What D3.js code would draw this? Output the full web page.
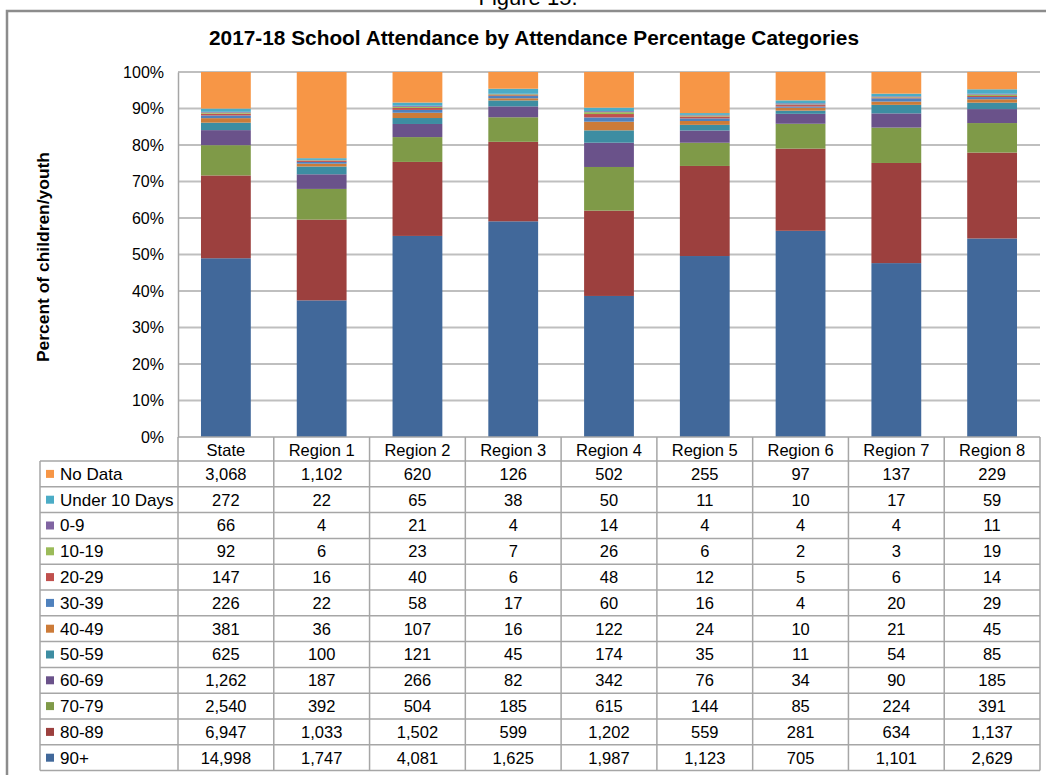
<!DOCTYPE html>
<html>
<head>
<meta charset="utf-8">
<script src="https://cdn.jsdelivr.net/npm/d3@7"></script>
<style>
  body { margin: 0; background: #fff; }
  svg { display: block; font-family: "Liberation Sans", Arial, sans-serif; }
</style>
</head>
<body>
<svg width="1046" height="775"></svg>
<script>
// columns of the chart / table
var regions = ['State', 'Region 1', 'Region 2', 'Region 3', 'Region 4', 'Region 5', 'Region 6', 'Region 7', 'Region 8'];

// series, bottom of the stack first
var categories = ['90+', '80-89', '70-79', '60-69', '50-59', '40-49', '30-39', '20-29', '10-19', '0-9', 'Under 10 Days', 'No Data'];
var colors = ['#41689a', '#9c403e', '#7f9a48', '#6a528a', '#3d8da2', '#cc7b38', '#4f81bd', '#c0504d', '#9bbb59', '#8064a2', '#4bacc6', '#f79646'];

var att90 = [14998, 1747, 4081, 1625, 1987, 1123, 705, 1101, 2629];
var att80 = [6947, 1033, 1502, 599, 1202, 559, 281, 634, 1137];
var att70 = [2540, 392, 504, 185, 615, 144, 85, 224, 391];
var att60 = [1262, 187, 266, 82, 342, 76, 34, 90, 185];
var att50 = [625, 100, 121, 45, 174, 35, 11, 54, 85];
var att40 = [381, 36, 107, 16, 122, 24, 10, 21, 45];
var att30 = [226, 22, 58, 17, 60, 16, 4, 20, 29];
var att20 = [147, 16, 40, 6, 48, 12, 5, 6, 14];
var att10 = [92, 6, 23, 7, 26, 6, 2, 3, 19];
var att0 = [66, 4, 21, 4, 14, 4, 4, 4, 11];
var under10 = [272, 22, 65, 38, 50, 11, 10, 17, 59];
var noData = [3068, 1102, 620, 126, 502, 255, 97, 137, 229];

var seriesValues = [att90, att80, att70, att60, att50, att40, att30, att20, att10, att0, under10, noData];

var yTicks = [0, 0.1, 0.2, 0.3, 0.4, 0.5, 0.6, 0.7, 0.8, 0.9, 1];

// rows for the stack
var rows = regions.map(function (r, i) {
  var row = { region: r };
  categories.forEach(function (c, j) { row[c] = seriesValues[j][i]; });
  return row;
});

var stack = d3.stack().keys(categories).offset(d3.stackOffsetExpand);
var layers = stack(rows);

var svg = d3.select('svg');

var plotLeft = 178, plotRight = 1040, plotTop = 72, plotBottom = 437;
var tableLeft = 40, tableTop = 461, rowH = 25.8;

var x = d3.scaleBand().domain(regions).range([plotLeft, plotRight]).paddingInner(0.48).paddingOuter(0.24);
var col = d3.scaleBand().domain(regions).range([plotLeft, plotRight]).padding(0);
var y = d3.scaleLinear().domain([0, 1]).range([plotBottom, plotTop]);
var color = d3.scaleOrdinal().domain(categories).range(colors);

// figure caption, cut off at the top like in the source
svg.append('text')
  .attr('x', 528).attr('y', 5)
  .attr('text-anchor', 'middle')
  .style('font-size', '22px')
  .text('Figure 15.');

// outer frame
svg.append('path')
  .attr('d', 'M7,775V11H1046')
  .attr('fill', 'none')
  .attr('stroke', '#8c8c8c')
  .attr('stroke-width', 2.5);

svg.append('text')
  .attr('x', 209).attr('y', 45)
  .attr('textLength', 650)
  .attr('lengthAdjust', 'spacingAndGlyphs')
  .style('font-weight', 'bold')
  .style('font-size', '21px')
  .text('2017-18 School Attendance by Attendance Percentage Categories');

// gridlines
svg.append('g')
  .selectAll('line')
  .data(yTicks.slice(1))
  .enter().append('line')
  .attr('x1', plotLeft).attr('x2', plotRight)
  .attr('y1', function (d) { return y(d); })
  .attr('y2', function (d) { return y(d); })
  .attr('stroke', '#bfbfbf')
  .attr('stroke-width', 2);

// y axis
var yAxis = svg.append('g')
  .attr('transform', 'translate(' + plotLeft + ',0)')
  .call(d3.axisLeft(y).tickValues(yTicks).tickFormat(d3.format('.0%')).tickSize(0).tickPadding(14));
yAxis.select('.domain').attr('stroke', '#a6a6a6').attr('stroke-width', 1.5);
yAxis.selectAll('text').style('font-size', '16px').style('font-family', '"Liberation Sans", Arial, sans-serif').attr('fill', '#000');

svg.append('text')
  .attr('transform', 'translate(49,362) rotate(-90)')
  .attr('textLength', 210)
  .attr('lengthAdjust', 'spacingAndGlyphs')
  .style('font-weight', 'bold')
  .style('font-size', '17px')
  .text('Percent of children/youth');

// bars
svg.append('g')
  .selectAll('g')
  .data(layers)
  .enter().append('g')
  .attr('fill', function (d) { return color(d.key); })
  .selectAll('rect')
  .data(function (d) { return d; })
  .enter().append('rect')
  .attr('x', function (d) { return x(d.data.region); })
  .attr('y', function (d) { return y(d[1]); })
  .attr('width', x.bandwidth())
  .attr('height', function (d) { return y(d[0]) - y(d[1]); });

// data table
var tableRows = categories.slice().reverse();
var tableBottom = tableTop + rowH * tableRows.length;
var grid = svg.append('g').attr('stroke', '#a6a6a6').attr('stroke-width', 1.5);

grid.append('line')
  .attr('x1', plotLeft).attr('x2', plotRight)
  .attr('y1', plotBottom).attr('y2', plotBottom);
grid.selectAll('.hline')
  .data(d3.range(tableRows.length + 1))
  .enter().append('line')
  .attr('x1', tableLeft).attr('x2', plotRight)
  .attr('y1', function (i) { return tableTop + i * rowH; })
  .attr('y2', function (i) { return tableTop + i * rowH; });
grid.selectAll('.vline')
  .data(regions.concat(['end']))
  .enter().append('line')
  .attr('x1', function (d, i) { return plotLeft + i * col.step(); })
  .attr('x2', function (d, i) { return plotLeft + i * col.step(); })
  .attr('y1', plotBottom).attr('y2', tableBottom);
grid.append('line')
  .attr('x1', tableLeft).attr('x2', tableLeft)
  .attr('y1', tableTop).attr('y2', tableBottom);

svg.append('g')
  .selectAll('text')
  .data(regions)
  .enter().append('text')
  .attr('x', function (d) { return col(d) + col.bandwidth() / 2; })
  .attr('y', plotBottom + 19)
  .attr('text-anchor', 'middle')
  .style('font-size', '16.5px')
  .text(function (d) { return d; });

var fmt = d3.format(',');
var tr = svg.append('g')
  .selectAll('g')
  .data(tableRows)
  .enter().append('g')
  .attr('transform', function (d, i) { return 'translate(0,' + (tableTop + i * rowH) + ')'; });

tr.append('rect')
  .attr('x', 46).attr('y', rowH / 2 - 4)
  .attr('width', 8).attr('height', 8)
  .attr('fill', function (d) { return color(d); });

tr.append('text')
  .attr('x', 60).attr('y', rowH / 2 + 6)
  .style('font-size', '17px')
  .text(function (d) { return d; });

tr.selectAll('.val')
  .data(function (d) {
    var vals = seriesValues[categories.indexOf(d)];
    return regions.map(function (r, i) { return { region: r, v: vals[i] }; });
  })
  .enter().append('text')
  .attr('x', function (d) { return col(d.region) + col.bandwidth() / 2; })
  .attr('y', rowH / 2 + 6)
  .attr('text-anchor', 'middle')
  .style('font-size', '16.5px')
  .text(function (d) { return fmt(d.v); });
</script>
</body>
</html>
